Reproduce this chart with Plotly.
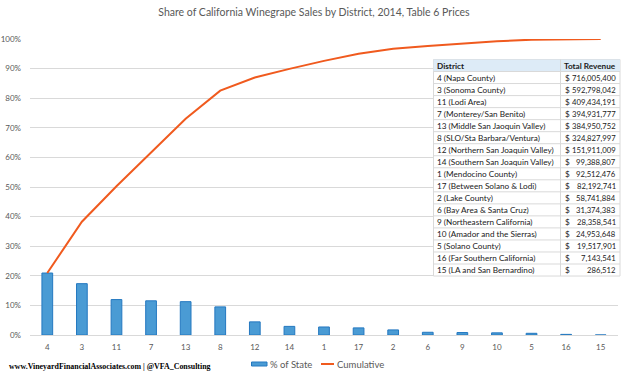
import plotly.graph_objects as go

# ---- data ----
districts = ["4", "3", "11", "7", "13", "8", "12", "14", "1", "17", "2", "6", "9", "10", "5", "16", "15"]
pct_state = [0.2094, 0.1734, 0.1197, 0.1155, 0.1126, 0.0950, 0.0444, 0.0291, 0.0271, 0.0240,
             0.0172, 0.0092, 0.0083, 0.0073, 0.0057, 0.0021, 0.0001]
cumulative = [0.2094, 0.3828, 0.5025, 0.6180, 0.7306, 0.8256, 0.8700, 0.8991, 0.9261, 0.9502,
              0.9674, 0.9765, 0.9848, 0.9921, 0.9978, 0.9999, 1.0000]
table_names = ["4 (Napa County)", "3 (Sonoma County)", "11 (Lodi Area)", "7 (Monterey/San Benito)",
               "13 (Middle San Jaoquin Valley)", "8 (SLO/Sta Barbara/Ventura)",
               "12 (Northern San Joaquin Valley)", "14 (Southern San Joaquin Valley)",
               "1 (Mendocino County)", "17 (Between Solano & Lodi)", "2 (Lake County)",
               "6 (Bay Area & Santa Cruz)", "9 (Northeastern California)", "10 (Amador and the Sierras)",
               "5 (Solano County)", "16 (Far Southern California)", "15 (LA and San Bernardino)"]
table_revenue = ["716,005,400", "592,798,042", "409,434,191", "394,931,777", "384,950,752",
                 "324,827,997", "151,911,009", "99,388,807", "92,512,476", "82,192,741",
                 "58,741,884", "31,374,383", "28,358,541", "24,953,648", "19,517,901",
                 "7,143,541", "286,512"]
y_ticks = [i / 10 for i in range(11)]
y_tick_labels = [f"{i * 10}%" for i in range(11)]

# ---- layout geometry (window pixels; page body margin removed below) ----
W, H = 628, 376
PX0, PX1, PY0, PY1 = 30, 618, 39, 335
L, R, T, B = PX0, W - PX1, PY0, H - PY1
PW, PH = PX1 - PX0, PY1 - PY0


def px(x):  # window px -> paper
    return (x - PX0) / PW


def py(y):  # window px -> paper
    return (PY1 - y) / PH


FONT = "Lato"
GRAY = "#595959"
BLUE = "#4A9BD4"
BLUE_EDGE = "#2478C0"
ORANGE = "#F05A1E"

fig = go.Figure()
fig.add_trace(go.Bar(
    x=districts, y=pct_state, name="% of State", width=0.31,
    marker=dict(color=BLUE, line=dict(color=BLUE_EDGE, width=1)),
))
fig.add_trace(go.Scatter(
    x=districts, y=cumulative, name="Cumulative", mode="lines",
    line=dict(color=ORANGE, width=2),
))

shapes = []
annotations = []

# ---- table ----
tx0, tx1, tdiv = 433.5, 620, 560.5
ty0, row_h = 59.5, 12.03
n = len(table_names)
ty1 = ty0 + row_h * (n + 1)
line_col = "#D9D9D9"

shapes.append(dict(type="rect", xref="paper", yref="paper", layer="above",
                   x0=px(tx0), x1=px(tx1), y0=py(ty0), y1=py(ty1),
                   fillcolor="white", line=dict(color=line_col, width=1)))
shapes.append(dict(type="rect", xref="paper", yref="paper", layer="above",
                   x0=px(tx0), x1=px(tx1), y0=py(ty0), y1=py(ty0 + row_h),
                   fillcolor="#DDEBF7", line=dict(width=0)))
for i in range(1, n + 1):
    yy = ty0 + row_h * i
    shapes.append(dict(type="line", xref="paper", yref="paper", layer="above",
                       x0=px(tx0), x1=px(tx1), y0=py(yy), y1=py(yy),
                       line=dict(color=line_col, width=1)))
shapes.append(dict(type="line", xref="paper", yref="paper", layer="above",
                   x0=px(tdiv), x1=px(tdiv), y0=py(ty0), y1=py(ty1),
                   line=dict(color=line_col, width=1)))

tfont = dict(family=FONT, size=8.2, color="#1a1a1a")
vfont = dict(family=FONT, size=7.7, color="#1a1a1a")
hy = ty0 + row_h / 2
annotations.append(dict(text="<b>District</b>", xref="paper", yref="paper", x=px(tx0 + 1.5), y=py(hy),
                        xanchor="left", yanchor="middle", showarrow=False, font=tfont))
annotations.append(dict(text="<b>Total Revenue</b>", xref="paper", yref="paper", x=px(tx1 - 2), y=py(hy),
                        xanchor="right", yanchor="middle", showarrow=False, font=tfont))
for i, (nm, rv) in enumerate(zip(table_names, table_revenue)):
    cy = ty0 + row_h * (i + 1.5)
    annotations.append(dict(text=nm, xref="paper", yref="paper", x=px(tx0 + 1.5), y=py(cy),
                            xanchor="left", yanchor="middle", showarrow=False, font=tfont))
    annotations.append(dict(text="$", xref="paper", yref="paper", x=px(tdiv + 2.5), y=py(cy),
                            xanchor="left", yanchor="middle", showarrow=False, font=tfont))
    annotations.append(dict(text=rv, xref="paper", yref="paper", x=px(tx1 - 2.5), y=py(cy),
                            xanchor="right", yanchor="middle", showarrow=False, font=vfont))

# ---- legend (drawn to match the compact Excel legend) ----
lg_y = 364
shapes.append(dict(type="rect", xref="paper", yref="paper", layer="above",
                   x0=px(251.5), x1=px(267), y0=py(lg_y - 2), y1=py(lg_y + 2),
                   fillcolor=BLUE, line=dict(color=BLUE_EDGE, width=1)))
shapes.append(dict(type="line", xref="paper", yref="paper", layer="above",
                   x0=px(321), x1=px(334), y0=py(lg_y), y1=py(lg_y),
                   line=dict(color=ORANGE, width=2)))
lfont = dict(family=FONT, size=9.5, color=GRAY)
annotations.append(dict(text="% of State", xref="paper", yref="paper", x=px(268), y=py(lg_y),
                        xanchor="left", yanchor="middle", showarrow=False, font=lfont))
annotations.append(dict(text="Cumulative", xref="paper", yref="paper", x=px(334.5), y=py(lg_y),
                        xanchor="left", yanchor="middle", showarrow=False, font=lfont))

# ---- footer ----
annotations.append(dict(text="<b>www.VineyardFinancialAssociates.com | @VFA_Consulting</b>",
                        xref="paper", yref="paper", x=px(7), y=py(366),
                        xanchor="left", yanchor="middle", showarrow=False,
                        font=dict(family="Liberation Serif", size=7.9, color="black")))

fig.update_layout(
    width=W, height=H,
    margin=dict(l=L, r=R, t=T, b=B, pad=0, autoexpand=False),
    paper_bgcolor="white", plot_bgcolor="white",
    title=dict(text="Share of California Winegrape Sales by District, 2014, Table 6 Prices",
               x=px(314), xanchor="center", xref="paper",
               y=1 - 12.5 / H, yanchor="middle", yref="container",
               font=dict(family=FONT, size=10.5, color=GRAY)),
    showlegend=False,
    hovermode=False,
    shapes=shapes,
    annotations=annotations,
    xaxis=dict(type="category", range=[-0.5, 16.5], showgrid=False, showline=True,
               linecolor="#D9D9D9", linewidth=1, ticks="", zeroline=False, automargin=False,
               tickfont=dict(family=FONT, size=8, color=GRAY), ticklabelstandoff=4),
    yaxis=dict(range=[0, 1.0], tickvals=y_ticks, ticktext=y_tick_labels, showgrid=True,
               gridcolor="#D9D9D9", gridwidth=1, zeroline=False, showline=False, ticks="",
               automargin=False,
               tickfont=dict(family=FONT, size=8, color=GRAY), ticklabelstandoff=8),
)

fig.write_html("out.html", config={"displayModeBar": False},
               post_script="document.body.style.margin='0px';")
